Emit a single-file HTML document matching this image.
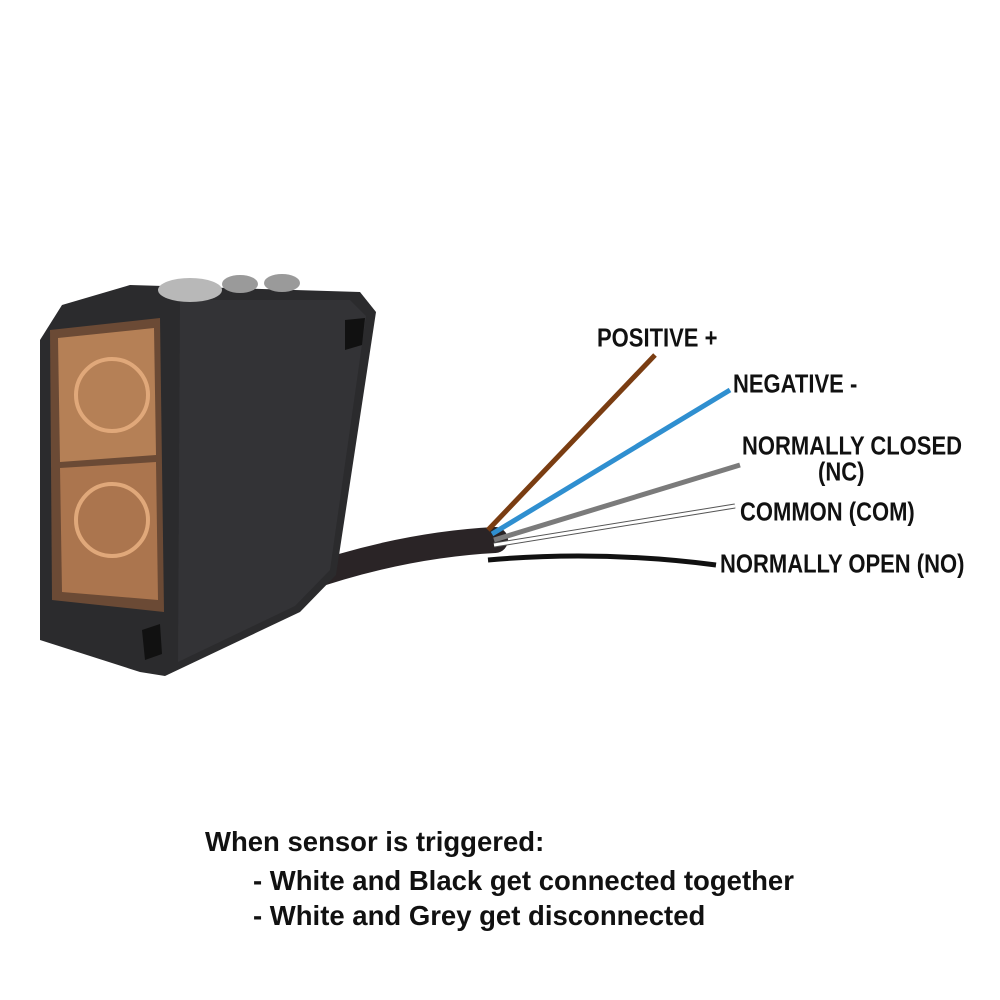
<!DOCTYPE html>
<html><head><meta charset="utf-8"><style>
html,body{margin:0;padding:0;background:#fff;}
body{width:1000px;height:1000px;position:relative;overflow:hidden;font-family:"Liberation Sans",sans-serif;}
.lbl{position:absolute;font-weight:bold;font-size:25px;color:#111;transform-origin:0 50%;transform:scale(0.88,1.05);white-space:nowrap;}
.note{position:absolute;font-weight:bold;font-size:27.5px;color:#111;white-space:nowrap;}
</style></head><body>
<svg width="1000" height="1000" style="position:absolute;left:0;top:0">
  <path d="M300,580 Q400,545 495,540" stroke="#2a2426" stroke-width="26" fill="none" stroke-linecap="round"/>
  <polygon points="62,305 130,285 360,292 376,312 336,575 300,612 165,676 140,672 40,640 40,340" fill="#2b2b2d"/>
  <polygon points="180,300 350,300 366,316 330,570 295,606 178,662" fill="#333336"/>
  <ellipse cx="190" cy="290" rx="32" ry="12" fill="#b8b8b8"/>
  <ellipse cx="240" cy="284" rx="18" ry="9" fill="#9a9a9a"/>
  <ellipse cx="282" cy="283" rx="18" ry="9" fill="#9a9a9a"/>
  <polygon points="50,330 160,318 164,612 52,600" fill="#6b4a35"/>
  <polygon points="58,338 154,328 156,455 60,462" fill="#c28a5c" opacity="0.85"/>
  <polygon points="60,468 156,462 158,600 62,592" fill="#b67d52" opacity="0.85"/>
  <circle cx="112" cy="395" r="36" fill="none" stroke="#e0a87a" stroke-width="4"/>
  <circle cx="112" cy="520" r="36" fill="none" stroke="#e0a87a" stroke-width="4"/>
  <polygon points="345,320 365,318 362,345 345,350" fill="#111"/>
  <polygon points="142,630 160,624 162,654 145,660" fill="#111"/>
  <line x1="488" y1="530" x2="655" y2="355" stroke="#7a3d12" stroke-width="5"/>
  <line x1="492" y1="534" x2="730" y2="390" stroke="#2f8fd0" stroke-width="5"/>
  <line x1="494" y1="540" x2="740" y2="465" stroke="#7b7b7b" stroke-width="5"/>
  <line x1="494" y1="545" x2="735" y2="506" stroke="#555" stroke-width="5"/>
  <line x1="494" y1="545" x2="735" y2="506" stroke="#fff" stroke-width="3"/>
  <path d="M488,560 Q600,550 716,565" stroke="#111" stroke-width="5" fill="none"/>
</svg>
<div class="lbl" style="left:597px;top:324px">POSITIVE +</div>
<div class="lbl" style="left:733px;top:370px">NEGATIVE -</div>
<div class="lbl" style="left:742px;top:432px">NORMALLY CLOSED</div>
<div class="lbl" style="left:818px;top:458px">(NC)</div>
<div class="lbl" style="left:740px;top:498px">COMMON (COM)</div>
<div class="lbl" style="left:720px;top:550px">NORMALLY OPEN (NO)</div>
<div class="note" style="left:205px;top:826px">When sensor is triggered:</div>
<div class="note" style="left:253px;top:865px">- White and Black get connected together</div>
<div class="note" style="left:253px;top:900px">- White and Grey get disconnected</div>
</body></html>
